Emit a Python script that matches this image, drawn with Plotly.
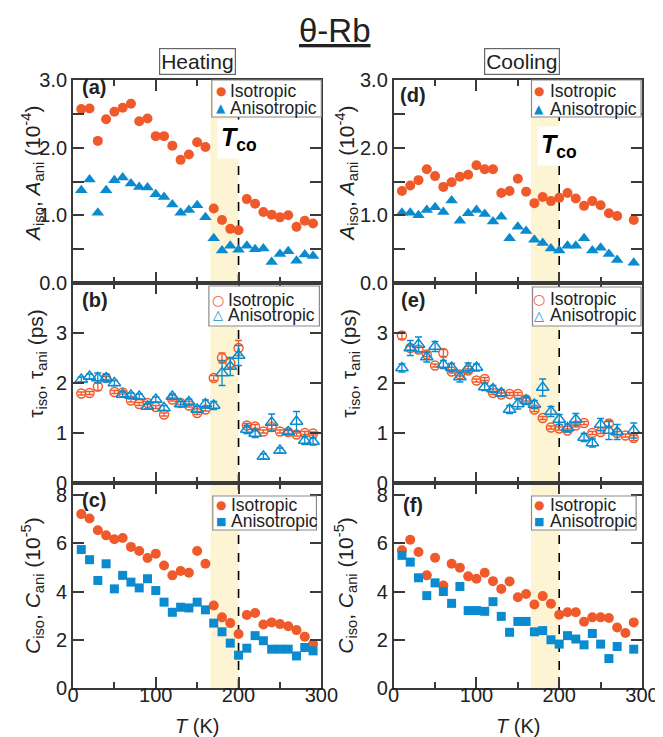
import plotly.graph_objects as go

# ---------------- data ----------------
T_heat = [10, 20, 30, 40, 50, 60, 70, 80, 90, 100, 110, 120, 130, 140, 150,
          160, 170, 180, 190, 200, 210, 220, 230, 240, 250, 260, 270, 280, 290]

A_iso_heat = [2.57, 2.58, 2.10, 2.42, 2.53, 2.59, 2.65, 2.39, 2.43, 2.17, 2.17, 2.03, 1.82, 1.90, 2.08,
              2.01, 1.10, 0.93, 0.80, 0.78, 1.24, 1.17, 1.05, 1.01, 0.97, 1.00, 0.83, 0.92, 0.88]
A_ani_heat = [1.37, 1.53, 1.04, 1.37, 1.52, 1.56, 1.47, 1.42, 1.41, 1.31, 1.27, 1.16, 1.04, 1.08, 1.15,
              0.97, 0.66, 0.48, 0.55, 0.49, 0.55, 0.50, 0.51, 0.31, 0.43, 0.47, 0.33, 0.42, 0.40]

tau_iso_heat = [1.79, 1.80, 1.93, 2.10, 1.82, 1.81, 1.65, 1.58, 1.60, 1.52, 1.37, 1.67, 1.60, 1.55, 1.40,
                1.47, 2.10, 2.50, 2.40, 2.70, 1.15, 1.13, 1.03, 1.12, 1.03, 1.02, 0.97, 1.00, 0.99]
tau_iso_heat_err = [0.03, 0.03, 0.08, 0.03, 0.03, 0.03, 0.03, 0.03, 0.03, 0.03, 0.03, 0.03, 0.03, 0.03, 0.03,
                    0.03, 0.05, 0.10, 0.10, 0.15, 0.04, 0.04, 0.03, 0.04, 0.03, 0.03, 0.03, 0.03, 0.03]
tau_ani_heat = [2.07, 2.13, 2.10, 2.10, 2.00, 1.77, 1.75, 1.73, 1.53, 1.67, 1.50, 1.73, 1.58, 1.62, 1.47,
                1.58, 1.55, 2.20, 2.33, 2.55, 1.07, 0.99, 0.53, 1.21, 0.65, 1.02, 1.23, 0.85, 0.83]
tau_ani_heat_err = [0.05, 0.05, 0.10, 0.08, 0.05, 0.05, 0.05, 0.05, 0.05, 0.05, 0.05, 0.05, 0.05, 0.06, 0.06,
                    0.08, 0.08, 0.25, 0.18, 0.20, 0.08, 0.08, 0.05, 0.17, 0.05, 0.05, 0.20, 0.08, 0.07]

C_iso_heat = [7.21, 7.03, 6.54, 6.33, 6.17, 6.22, 5.85, 5.68, 5.39, 5.57, 5.08, 4.67, 4.85, 4.78, 5.68,
              5.15, 3.42, 2.93, 2.69, 2.24, 3.03, 3.11, 2.63, 2.72, 2.65, 2.56, 2.40, 2.13, 1.82]
C_ani_heat = [5.74, 5.32, 4.46, 5.15, 4.11, 4.67, 4.39, 4.15, 4.53, 4.04, 3.56, 3.14, 3.35, 3.32, 3.56,
              3.24, 2.69, 2.33, 1.86, 1.36, 1.65, 2.17, 1.96, 1.61, 1.61, 1.61, 1.33, 1.68, 1.54]

T_cool_full = [10, 20, 30, 40, 50, 60, 70, 80, 90, 100, 110, 120, 130, 140, 150,
               160, 170, 180, 190, 200, 210, 220, 230, 240, 250, 260, 270, 280, 290]
T_cool_part = [10, 20, 30, 40, 50, 60, 70, 80, 90, 100, 110, 120, 130, 140, 150,
               160, 170, 180, 190, 200, 210, 220, 230, 240, 250, 260, 270, 290]

A_iso_cool = [1.36, 1.44, 1.52, 1.68, 1.58, 1.42, 1.49, 1.57, 1.60, 1.74, 1.68, 1.68, 1.33, 1.36, 1.54,
              1.35, 1.18, 1.27, 1.21, 1.26, 1.33, 1.25, 1.14, 1.21, 1.15, 1.03, 0.99, 0.93]
A_ani_cool = [1.04, 1.04, 1.00, 1.08, 1.12, 1.05, 1.22, 0.92, 1.03, 1.08, 1.02, 0.91, 0.98, 0.66, 0.83,
              0.77, 0.64, 0.59, 0.51, 0.48, 0.55, 0.55, 0.66, 0.48, 0.52, 0.43, 0.34, 0.30]

tau_iso_cool = [2.95, 2.70, 2.67, 2.57, 2.35, 2.60, 2.23, 2.17, 2.25, 2.05, 2.08, 1.80, 1.77, 1.78, 1.78,
                1.67, 1.47, 1.30, 1.11, 1.09, 1.05, 1.15, 1.20, 1.00, 1.02, 1.19, 1.00, 0.95, 0.90]
tau_iso_cool_err = [0.07, 0.04, 0.04, 0.04, 0.03, 0.07, 0.03, 0.03, 0.03, 0.03, 0.03, 0.03, 0.03, 0.03, 0.03,
                    0.03, 0.04, 0.03, 0.03, 0.03, 0.03, 0.03, 0.03, 0.03, 0.03, 0.06, 0.03, 0.03, 0.05]
tau_ani_cool = [2.30, 2.70, 2.77, 2.52, 2.73, 2.37, 2.31, 2.12, 2.30, 2.31, 1.92, 1.88, 1.80, 1.47, 1.58,
                1.65, 1.57, 1.91, 1.43, 1.27, 1.10, 1.27, 0.91, 0.80, 1.17, 1.05, 1.02, 1.05]
tau_ani_cool_err = [0.08, 0.15, 0.15, 0.10, 0.10, 0.08, 0.08, 0.10, 0.10, 0.07, 0.07, 0.07, 0.07, 0.08, 0.10,
                    0.08, 0.08, 0.17, 0.10, 0.10, 0.08, 0.12, 0.08, 0.08, 0.12, 0.18, 0.15, 0.15]

C_iso_cool = [5.71, 6.15, 5.64, 4.67, 5.40, 4.25, 5.15, 4.99, 4.63, 4.53, 4.78, 4.43, 4.11, 4.42, 3.76,
              3.90, 3.46, 3.81, 3.49, 3.04, 3.14, 3.14, 2.75, 2.93, 2.93, 2.90, 2.51, 2.28, 2.72]
C_ani_cool = [5.50, 5.22, 4.57, 3.83, 4.36, 4.00, 3.51, 4.21, 3.21, 3.21, 3.18, 3.58, 2.97, 2.31, 2.76,
              2.76, 2.33, 2.38, 2.00, 1.82, 2.17, 2.03, 1.79, 2.26, 1.82, 1.22, 1.72, 1.61]

T_CO = 200
SHADE = [166, 200]

# ---------------- styling ----------------
ORANGE = "#F05A2A"
BLUE = "#0A8BCF"
AX = "#3a3a3a"
FONT = "Liberation Sans, Arial, sans-serif"

W, H = 663, 737
ML, MR, MT, MB = 65, 16, 72, 57
PW = W - ML - MR
PH = H - MT - MB
cols = [(65, 319), (393, 647)]
rows = [(72, 275), (275, 475), (475, 680)]


def xdom(c):
    a, b = cols[c]
    return [(a - ML) / PW, (b - ML) / PW]


def ydom(r):
    a, b = rows[r]
    return [(MT + PH - b) / PH, (MT + PH - a) / PH]


def px2paper_x(px):
    return (px - ML) / PW


def px2paper_y(py):
    return (MT + PH - py) / PH


fig = go.Figure()


def ax_idx(r, c):
    return r * 2 + c + 1


def axname(prefix, i):
    return prefix if i == 1 else f"{prefix}{i}"


def add_pair(r, c, x1, y1, s1, x2, y2, s2, open_=False, e1=None, e2=None, size1=10, size2=10):
    i = ax_idx(r, c)
    xa, ya = axname("x", i), axname("y", i)
    for xx, yy, sym, col, err, sz in [(x1, y1, s1, ORANGE, e1, size1), (x2, y2, s2, BLUE, e2, size2)]:
        if open_:
            marker = dict(symbol=sym, size=sz, color=col, line=dict(color=col, width=1.4))
        else:
            marker = dict(symbol=sym, size=sz, color=col, line=dict(width=0))
        tr = go.Scatter(x=xx, y=yy, mode="markers", marker=marker, xaxis=xa, yaxis=ya,
                        showlegend=False, cliponaxis=False)
        if err is not None:
            tr.error_y = dict(type="data", array=err, color=col, thickness=1.3, width=3.5)
        fig.add_trace(tr)


add_pair(0, 0, T_heat, A_iso_heat, "circle", T_heat, A_ani_heat, "triangle-up", size1=10, size2=11)
add_pair(1, 0, T_heat, tau_iso_heat, "circle-open", T_heat, tau_ani_heat, "triangle-up-open",
         open_=True, e1=tau_iso_heat_err, e2=tau_ani_heat_err, size1=9, size2=11)
add_pair(2, 0, T_heat, C_iso_heat, "circle", T_heat, C_ani_heat, "square", size1=10, size2=9)
add_pair(0, 1, T_cool_part, A_iso_cool, "circle", T_cool_part, A_ani_cool, "triangle-up", size1=10, size2=11)
add_pair(1, 1, T_cool_full, tau_iso_cool, "circle-open", T_cool_part, tau_ani_cool, "triangle-up-open",
         open_=True, e1=tau_iso_cool_err, e2=tau_ani_cool_err, size1=9, size2=11)
add_pair(2, 1, T_cool_full, C_iso_cool, "circle", T_cool_part, C_ani_cool, "square", size1=10, size2=9)

layout = dict(
    width=W, height=H,
    margin=dict(l=ML, r=MR, t=MT, b=MB),
    paper_bgcolor="white", plot_bgcolor="white",
    font=dict(family=FONT, size=18, color="#222"),
    showlegend=False,
)

yspecs = [
    dict(range=[0, 3.0], tickvals=[0, 1, 2, 3], ticktext=["0.0", "1.0", "2.0", "3.0"],
         minor=dict(tickvals=[0.5, 1.5, 2.5])),
    dict(range=[0, 4.0], tickvals=[0, 1, 2, 3], ticktext=["0", "1", "2", "3"], minor=None),
    dict(range=[0, 8.5], tickvals=[0, 2, 4, 6, 8], ticktext=["0", "2", "4", "6", "8"], minor=None),
]

for r in range(3):
    for c in range(2):
        i = ax_idx(r, c)
        xk = "xaxis" if i == 1 else f"xaxis{i}"
        yk = "yaxis" if i == 1 else f"yaxis{i}"
        layout[xk] = dict(
            domain=xdom(c), anchor=axname("y", i), range=[0, 300],
            showline=True, linecolor=AX, linewidth=1.8, mirror="allticks",
            ticks="inside", ticklen=11, tickwidth=1.6, tickcolor=AX,
            tickvals=[0, 100, 200, 300], showticklabels=(r == 2),
            minor=dict(tickvals=[50, 150, 250], ticks="inside", ticklen=6, tickwidth=1.6, tickcolor=AX),
            showgrid=False, zeroline=False, ticklabelstandoff=-12,
            tickfont=dict(size=20, color="#222", family=FONT),
        )
        ys = yspecs[r]
        yd = dict(
            domain=ydom(r), anchor=axname("x", i), range=ys["range"],
            showline=True, linecolor=AX, linewidth=1.8, mirror="allticks",
            ticks="inside", ticklen=11, tickwidth=1.6, tickcolor=AX,
            tickvals=ys["tickvals"], ticktext=ys["ticktext"],
            showgrid=False, zeroline=False,
            tickfont=dict(size=20, color="#222", family=FONT),
        )
        if ys["minor"] is not None:
            yd["minor"] = dict(tickvals=ys["minor"]["tickvals"], ticks="inside", ticklen=11,
                               tickwidth=1.6, tickcolor=AX)
        layout[yk] = yd

fig.update_layout(**layout)

shapes = []
annotations = []

for r in range(3):
    for c in range(2):
        i = ax_idx(r, c)
        xa, ya = axname("x", i), axname("y", i)
        shapes.append(dict(type="rect", xref=xa, yref=f"{ya} domain", x0=SHADE[0], x1=SHADE[1],
                           y0=0, y1=1, fillcolor="#FCF4D2", line=dict(width=0), layer="below"))
        shapes.append(dict(type="line", xref=xa, yref=f"{ya} domain", x0=T_CO, x1=T_CO,
                           y0=0, y1=1, line=dict(color="black", width=1.6, dash="dash"), layer="below"))

# legends (drawn as boxed keys)
leg_specs = {
    (0, 0): dict(box=(207, 72, 319, 109), rows=(83, 100), sx=216, tx=224, syms=("●", "▲"), ss=(12, 12)),
    (1, 0): dict(box=(204, 278, 317, 318), rows=(292, 306.5), sx=213, tx=221, syms=("○", "△"), ss=(14, 13)),
    (2, 0): dict(box=(208, 488, 314, 522), rows=(497, 513), sx=216, tx=225, syms=("●", "■"), ss=(12, 11)),
    (0, 1): dict(box=(534, 72, 646, 109), rows=(83, 101), sx=542, tx=551, syms=("●", "▲"), ss=(12, 12)),
    (1, 1): dict(box=(535, 279, 646, 318), rows=(291, 307), sx=542, tx=551, syms=("○", "△"), ss=(14, 13)),
    (2, 1): dict(box=(534, 488, 641, 522), rows=(497, 513), sx=542, tx=551, syms=("●", "■"), ss=(12, 11)),
}
for (r, c), sp in leg_specs.items():
    x0, y0, x1, y1 = sp["box"]
    shapes.append(dict(type="rect", xref="paper", yref="paper",
                       x0=px2paper_x(x0), x1=px2paper_x(x1), y0=px2paper_y(y1), y1=px2paper_y(y0),
                       fillcolor="white", line=dict(color="#8a8a8a", width=1.2), layer="above"))
    for k, (name, col) in enumerate([("Isotropic", ORANGE), ("Anisotropic", BLUE)]):
        yy = px2paper_y(sp["rows"][k])
        annotations.append(dict(x=px2paper_x(sp["sx"]), y=yy, xref="paper", yref="paper",
                                text=sp["syms"][k], showarrow=False, xanchor="center", yanchor="middle",
                                font=dict(family="DejaVu Sans", size=sp["ss"][k], color=col)))
        annotations.append(dict(x=px2paper_x(sp["tx"]), y=yy, xref="paper", yref="paper",
                                text=name, showarrow=False, xanchor="left", yanchor="middle",
                                font=dict(family=FONT, size=17.5, color="#222")))

# panel labels
plabels = {(0, 0): ("(a)", 72, 79), (1, 0): ("(b)", 72, 292), (2, 0): ("(c)", 72, 492),
           (0, 1): ("(d)", 397, 87), (1, 1): ("(e)", 398, 292), (2, 1): ("(f)", 401, 497)}
for (r, c), (t, px, py) in plabels.items():
    annotations.append(dict(x=px2paper_x(px), y=px2paper_y(py), xref="paper", yref="paper",
                            text=f"<b>{t}</b>", showarrow=False, xanchor="left", yanchor="middle",
                            font=dict(family=FONT, size=20, color="#222")))

# T_co labels
for c, yv in [(0, 2.13), (1, 2.03)]:
    i = ax_idx(0, c)
    annotations.append(dict(x=T_CO, y=yv, xref=axname("x", i), yref=axname("y", i),
                            text="<b><i>T</i><sub>co</sub></b>", showarrow=False,
                            xanchor="center", yanchor="middle", bgcolor="white", borderpad=3,
                            font=dict(family=FONT, size=25, color="black")))

# y axis titles
ytitles = [
    ("<i>A</i><sub>iso</sub>, <i>A</i><sub>ani</sub> (10<sup>-4</sup>)", 166),
    ("τ<sub>iso</sub>, τ<sub>ani</sub> (ps)", 355),
    ("<i>C</i><sub>iso</sub>, <i>C</i><sub>ani</sub> (10<sup>-5</sup>)", 577),
]
for c, xs in [(0, [24, 28, 23]), (1, [345, 348, 343])]:
    for r, (txt, py) in enumerate(ytitles):
        annotations.append(dict(x=px2paper_x(xs[r]), y=px2paper_y(py), xref="paper", yref="paper",
                                text=txt, showarrow=False, textangle=-90,
                                xanchor="center", yanchor="middle",
                                font=dict(family=FONT, size=21, color="#222")))

# x axis titles
for cx in [192, 520]:
    annotations.append(dict(x=px2paper_x(cx), y=px2paper_y(718), xref="paper", yref="paper",
                            text="<i>T</i> (K)", showarrow=False, xanchor="center", yanchor="middle",
                            font=dict(family=FONT, size=20, color="#222")))

# title and column headers
annotations.append(dict(x=px2paper_x(333), y=px2paper_y(22), xref="paper", yref="paper",
                        text="<u>θ-Rb</u>", showarrow=False, xanchor="center", yanchor="middle",
                        font=dict(family=FONT, size=33, color="#222")))
for txt, cx in [("Heating", 192), ("Cooling", 524)]:
    annotations.append(dict(x=px2paper_x(cx), y=px2paper_y(53), xref="paper", yref="paper",
                            text=txt, showarrow=False, xanchor="center", yanchor="middle",
                            bordercolor="#666", borderwidth=1.2, borderpad=1, bgcolor="white",
                            font=dict(family=FONT, size=21, color="#222")))

fig.update_layout(shapes=shapes, annotations=annotations)
fig.write_html("out.html")
